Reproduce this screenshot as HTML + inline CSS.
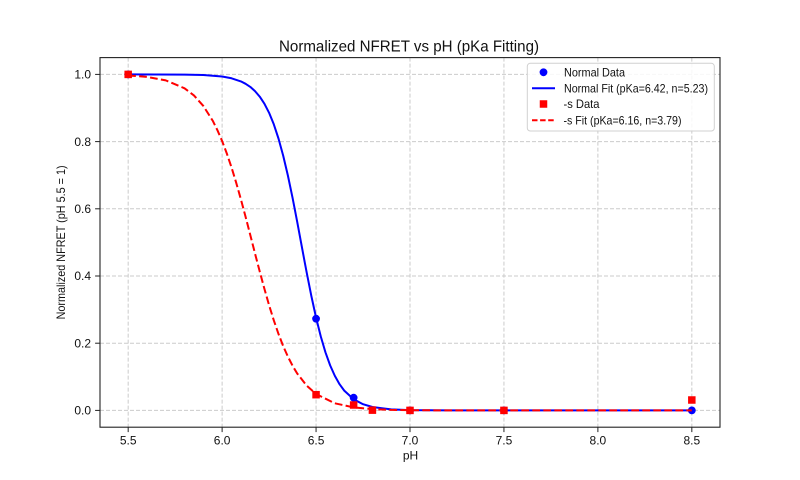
<!DOCTYPE html>
<html>
<head>
<meta charset="utf-8">
<style>
  html, body { margin: 0; padding: 0; background: #fff; }
  svg { display: block; }
  text { font-family: "Liberation Sans", "DejaVu Sans", sans-serif; fill: #111; }
</style>
</head>
<body>
<svg width="800" height="480" viewBox="0 0 800 480" xmlns="http://www.w3.org/2000/svg">
  <rect x="0" y="0" width="800" height="480" fill="#fff"/>

  <!-- grid -->
  <g stroke="#cbcbcb" stroke-width="1" stroke-dasharray="4,2" fill="none">
    <line x1="128.18" y1="57.6" x2="128.18" y2="427.2"/>
    <line x1="222.12" y1="57.6" x2="222.12" y2="427.2"/>
    <line x1="316.06" y1="57.6" x2="316.06" y2="427.2"/>
    <line x1="410.00" y1="57.6" x2="410.00" y2="427.2"/>
    <line x1="503.94" y1="57.6" x2="503.94" y2="427.2"/>
    <line x1="597.88" y1="57.6" x2="597.88" y2="427.2"/>
    <line x1="691.82" y1="57.6" x2="691.82" y2="427.2"/>
    <line x1="100" y1="410.4" x2="720" y2="410.4"/>
    <line x1="100" y1="343.2" x2="720" y2="343.2"/>
    <line x1="100" y1="276.0" x2="720" y2="276.0"/>
    <line x1="100" y1="208.8" x2="720" y2="208.8"/>
    <line x1="100" y1="141.6" x2="720" y2="141.6"/>
    <line x1="100" y1="74.4" x2="720" y2="74.4"/>
  </g>

  <!-- Normal fit (blue solid) -->
  <polyline fill="none" stroke="#0000ff" stroke-width="2" stroke-linejoin="round"
    points="128.18,74.4 184.55,74.6 203.33,75.0 222.12,76.5 231.52,78.27 240.91,81.4 245.6,83.8 250.30,86.9 255.0,91.1 259.70,96.6 264.39,103.7 269.09,112.8 273.79,124.3 278.48,138.5 283.18,155.6 287.88,175.5 292.58,197.9 297.27,222.2 301.03,242.4 304.79,262.6 306.67,272.4 311.36,296.1 316.06,317.6 320.76,336.4 325.45,352.3 330.15,365.4 334.85,375.9 339.55,384.2 344.24,390.6 353.64,399.2 363.03,404.2 372.42,407.0 391.21,409.4 410.00,410.1 447.58,410.4 691.82,410.4"/>

  <!-- Normal data (blue circles) -->
  <g fill="#0000ff">
    <circle cx="128.18" cy="74.4" r="3.9"/>
    <circle cx="316.06" cy="318.7" r="3.9"/>
    <circle cx="353.64" cy="397.7" r="3.9"/>
    <circle cx="410.00" cy="410.4" r="3.9"/>
    <circle cx="503.94" cy="410.4" r="3.9"/>
    <circle cx="691.82" cy="410.4" r="3.9"/>
  </g>

  <!-- -s fit (red dashed) -->
  <polyline fill="none" stroke="#ff0000" stroke-width="2" stroke-dasharray="7.7,3.3" stroke-linejoin="round"
    points="128.18,75.45 146.97,76.92 165.76,80.36 184.55,88.32 193.94,95.46 203.33,105.93 212.73,120.74 217.42,130.2 222.12,141.07 226.82,153.5 231.52,167.4 236.21,182.8 240.91,199.4 245.6,216.9 248.42,227.8 252.18,242.4 255.94,257.1 259.70,271.4 264.39,288.8 269.09,305.2 273.79,320.3 278.48,333.9 283.18,346.1 287.88,356.6 292.58,365.8 297.27,373.6 306.67,385.6 316.06,394.0 334.85,403.3 353.64,407.4 372.42,409.1 391.21,409.9 410.00,410.2 447.58,410.4 691.82,410.4"/>

  <!-- -s data (red squares) -->
  <g fill="#ff0000">
    <rect x="124.43" y="70.65" width="7.5" height="7.5"/>
    <rect x="312.31" y="390.95" width="7.5" height="7.5"/>
    <rect x="349.89" y="401.25" width="7.5" height="7.5"/>
    <rect x="368.67" y="406.4" width="7.5" height="7.5"/>
    <rect x="406.25" y="406.65" width="7.5" height="7.5"/>
    <rect x="500.19" y="406.65" width="7.5" height="7.5"/>
    <rect x="688.07" y="396.25" width="7.5" height="7.5"/>
  </g>

  <!-- spines -->
  <rect x="100" y="57.6" width="620" height="369.6" fill="none" stroke="#222" stroke-width="1.1"/>

  <!-- ticks -->
  <g stroke="#222" stroke-width="1">
    <line x1="128.18" y1="427.2" x2="128.18" y2="432.1"/>
    <line x1="222.12" y1="427.2" x2="222.12" y2="432.1"/>
    <line x1="316.06" y1="427.2" x2="316.06" y2="432.1"/>
    <line x1="410.00" y1="427.2" x2="410.00" y2="432.1"/>
    <line x1="503.94" y1="427.2" x2="503.94" y2="432.1"/>
    <line x1="597.88" y1="427.2" x2="597.88" y2="432.1"/>
    <line x1="691.82" y1="427.2" x2="691.82" y2="432.1"/>
    <line x1="95.1" y1="410.4" x2="100" y2="410.4"/>
    <line x1="95.1" y1="343.2" x2="100" y2="343.2"/>
    <line x1="95.1" y1="276.0" x2="100" y2="276.0"/>
    <line x1="95.1" y1="208.8" x2="100" y2="208.8"/>
    <line x1="95.1" y1="141.6" x2="100" y2="141.6"/>
    <line x1="95.1" y1="74.4" x2="100" y2="74.4"/>
  </g>

  <!-- x tick labels -->
  <g font-size="12" text-anchor="middle">
    <text x="128.18" y="444.5">5.5</text>
    <text x="222.12" y="444.5">6.0</text>
    <text x="316.06" y="444.5">6.5</text>
    <text x="410.00" y="444.5">7.0</text>
    <text x="503.94" y="444.5">7.5</text>
    <text x="597.88" y="444.5">8.0</text>
    <text x="691.82" y="444.5">8.5</text>
  </g>

  <!-- y tick labels -->
  <g font-size="12" text-anchor="end">
    <text x="91" y="414.6">0.0</text>
    <text x="91" y="347.4">0.2</text>
    <text x="91" y="280.2">0.4</text>
    <text x="91" y="213.0">0.6</text>
    <text x="91" y="145.8">0.8</text>
    <text x="91" y="78.6">1.0</text>
  </g>

  <!-- axis labels -->
  <text x="410.5" y="459.5" font-size="12" text-anchor="middle">pH</text>
  <text transform="translate(65,242.4) rotate(-90)" x="0" y="0" font-size="12" text-anchor="middle" textLength="154" lengthAdjust="spacingAndGlyphs">Normalized NFRET (pH 5.5 = 1)</text>

  <!-- title -->
  <text x="409" y="51.5" font-size="16" text-anchor="middle" textLength="260" lengthAdjust="spacingAndGlyphs">Normalized NFRET vs pH (pKa Fitting)</text>

  <!-- legend -->
  <rect x="527.3" y="63.3" width="187" height="67.7" rx="3" ry="3" fill="#fff" fill-opacity="0.85" stroke="#d0d0d0" stroke-width="1"/>
  <circle cx="543.5" cy="72.3" r="3.9" fill="#0000ff"/>
  <line x1="532" y1="88.3" x2="555" y2="88.3" stroke="#0000ff" stroke-width="2"/>
  <rect x="539.75" y="100.25" width="7.5" height="7.5" fill="#ff0000"/>
  <line x1="532" y1="120.3" x2="555" y2="120.3" stroke="#ff0000" stroke-width="2" stroke-dasharray="5.5,2.6"/>
  <g font-size="12">
    <text x="564" y="76.5" textLength="61" lengthAdjust="spacingAndGlyphs">Normal Data</text>
    <text x="564" y="92.5" textLength="144" lengthAdjust="spacingAndGlyphs">Normal Fit (pKa=6.42, n=5.23)</text>
    <text x="563.5" y="108.2" textLength="36" lengthAdjust="spacingAndGlyphs">-s Data</text>
    <text x="563.5" y="124.5" textLength="118" lengthAdjust="spacingAndGlyphs">-s Fit (pKa=6.16, n=3.79)</text>
  </g>
</svg>
</body>
</html>
